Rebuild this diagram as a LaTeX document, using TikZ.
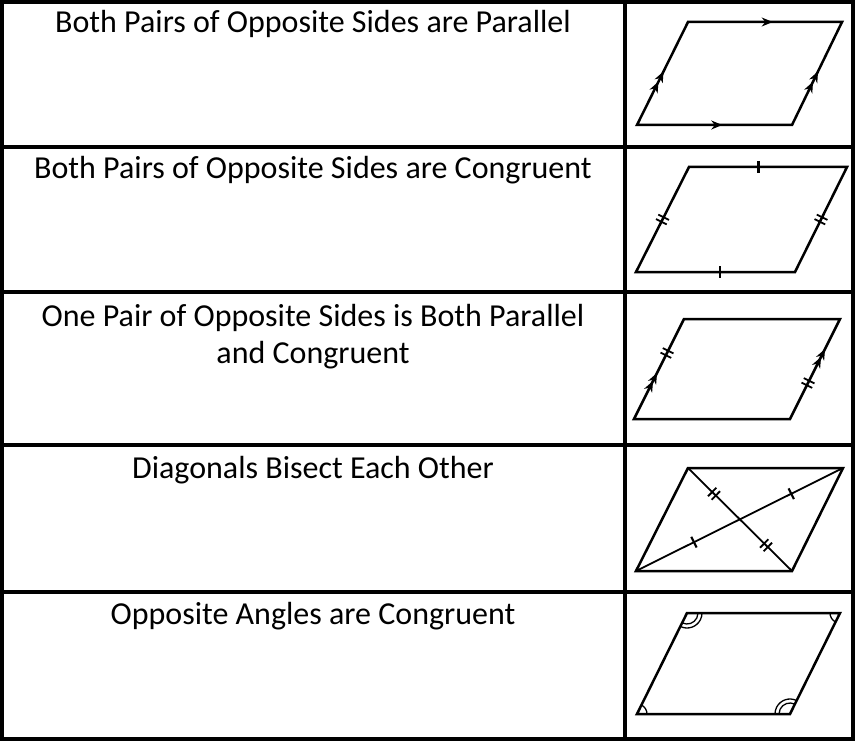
\documentclass[tikz,border=0pt]{standalone}
\usepackage{fontspec}
\setmainfont{Carlito}
\usetikzlibrary{arrows.meta,decorations.markings,angles}
\begin{document}
\begin{tikzpicture}[x=1pt,y=-1pt,
  grid/.style={line width=3.5pt},
  pgram/.style={line width=2.5pt,line join=miter},
  lbl/.style={anchor=north,align=center,font=\fontsize{32}{37}\selectfont,inner sep=0pt},
  ar/.style={postaction={decorate},decoration={markings,mark=at position #1 with {\arrow[line width=1.2pt]{Stealth[length=11pt,width=9pt]}}}},
  arr2/.style 2 args={postaction={decorate},decoration={markings,
     mark=at position #1 with {\arrow[line width=1.2pt]{Stealth[length=11pt,width=9pt]}},
     mark=at position #2 with {\arrow[line width=1.2pt]{Stealth[length=11pt,width=9pt]}}}},
  tk/.style={postaction={decorate},decoration={markings,mark=at position #1 with {\draw[line width=2.2pt] (0,-6)--(0,6);}}},
  tkk/.style={postaction={decorate},decoration={markings,mark=at position #1 with {\draw[line width=1.8pt] (-2.5,-6)--(-2.5,6) (2.5,-6)--(2.5,6);}}}]
\useasboundingbox (0,0) rectangle (855,741);
% table
\draw[grid] (2,2) rectangle (853,739);
\foreach \y in {147,292,445,592} \draw[grid] (2,\y)--(853,\y);
\draw[grid] (625,2)--(625,739);
% labels
\node[lbl] (t1) at (313,10) {Both Pairs of Opposite Sides are Parallel};
\node[lbl] (t2) at (313,156) {Both Pairs of Opposite Sides are Congruent};
\node[lbl] (t3) at (313,304) {One Pair of Opposite Sides is Both Parallel\\and Congruent};
\node[lbl] (t4) at (313,456) {Diagonals Bisect Each Other};
\node[lbl] (t5) at (313,602) {Opposite Angles are Congruent};
% 1
\coordinate (a1) at (637,125); \coordinate (b1) at (688,22); \coordinate (c1) at (842,22); \coordinate (d1) at (792,125);
\draw[pgram] (a1)--(b1)--(c1)--(d1)--cycle;
\path[ar=0.55] (b1)--(c1);
\path[ar=0.55] (a1)--(d1);
\path[arr2={0.42}{0.52}] (a1)--(b1);
\path[arr2={0.42}{0.52}] (d1)--(c1);
% 2
\coordinate (a2) at (636,272); \coordinate (b2) at (689,167); \coordinate (c2) at (847,167); \coordinate (d2) at (795,272);
\draw[pgram] (a2)--(b2)--(c2)--(d2)--cycle;
\path[tk=0.44] (b2)--(c2);
\path[tk=0.53] (a2)--(d2);
\path[tkk=0.5] (a2)--(b2);
\path[tkk=0.5] (d2)--(c2);
% 3
\coordinate (a3) at (634,419); \coordinate (b3) at (684,319); \coordinate (c3) at (840,319); \coordinate (d3) at (790,419);
\draw[pgram] (a3)--(b3)--(c3)--(d3)--cycle;
\path[arr2={0.38}{0.46}] (a3)--(b3);
\path[tkk=0.66] (a3)--(b3);
\path[tkk=0.36] (d3)--(c3);
\path[arr2={0.62}{0.70}] (d3)--(c3);
% 4
\coordinate (a4) at (636,571); \coordinate (b4) at (688,468); \coordinate (c4) at (843,468); \coordinate (d4) at (792,571);
\draw[pgram] (a4)--(b4)--(c4)--(d4)--cycle;
\draw[line width=1.8pt] (a4)--(c4);
\draw[line width=1.8pt] (b4)--(d4);
\path[tk=0.28] (a4)--(c4);
\path[tk=0.75] (a4)--(c4);
\path[tkk=0.25] (b4)--(d4);
\path[tkk=0.75] (b4)--(d4);
% 5
\coordinate (a5) at (637,714); \coordinate (b5) at (687,613); \coordinate (c5) at (840,613); \coordinate (d5) at (790,714);
\draw[pgram] (a5)--(b5)--(c5)--(d5)--cycle;
\pic[draw,line width=1.3pt,angle radius=10pt]{angle=d5--a5--b5};
\pic[draw,line width=1.3pt,angle radius=10pt]{angle=b5--c5--d5};
\pic[draw,line width=1.3pt,angle radius=11pt]{angle=a5--b5--c5};
\pic[draw,line width=1.3pt,angle radius=15pt]{angle=a5--b5--c5};
\pic[draw,line width=1.3pt,angle radius=11pt]{angle=c5--d5--a5};
\pic[draw,line width=1.3pt,angle radius=15pt]{angle=c5--d5--a5};
\end{tikzpicture}
\end{document}
